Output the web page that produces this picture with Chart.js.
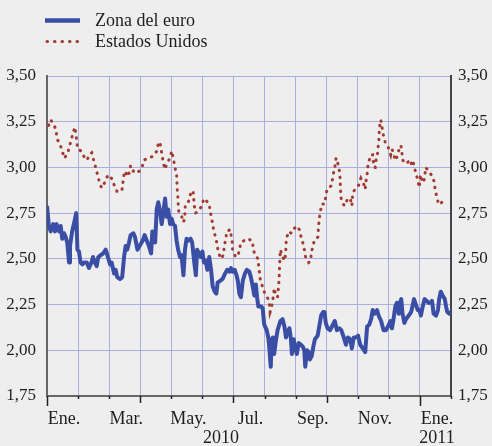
<!DOCTYPE html>
<html>
<head>
<meta charset="utf-8">
<script src="https://cdn.jsdelivr.net/npm/chart.js@4.4.1/dist/chart.umd.min.js"></script>
<style>
  html, body { margin: 0; padding: 0; background: #eeeeee; }
  canvas { display: block; }
</style>
</head>
<body>
<canvas id="chart" width="492" height="446"></canvas>
<script>
// Time is in months since 1 Jan 2010
const euroTimes = [
  0.00,0.06,0.12,0.20,0.26,0.31,0.39,0.44,0.49,0.55,
  0.60,0.65,0.71,0.74,0.81,0.89,0.94,0.98,1.03,1.08,
  1.14,1.19,1.28,1.35,1.43,1.48,1.54,1.60,1.65,1.73,
  1.81,1.89,1.96,2.03,2.08,2.16,2.21,2.26,2.35,2.42,
  2.48,2.53,2.58,2.64,2.69,2.78,2.83,2.91,2.98,3.08,
  3.14,3.21,3.28,3.35,3.39,3.44,3.48,3.53,3.58,3.64,
  3.69,3.74,3.80,3.85,3.90,3.96,4.01,4.06,4.12,4.17,
  4.22,4.28,4.33,4.39,4.44,4.49,4.55,4.62,4.67,4.74,
  4.79,4.83,4.89,4.95,5.00,5.05,5.11,5.16,5.22,5.28,
  5.33,5.40,5.45,5.49,5.57,5.65,5.73,5.80,5.87,5.92,
  5.97,6.04,6.10,6.14,6.19,6.24,6.30,6.37,6.43,6.51,
  6.56,6.62,6.67,6.72,6.76,6.80,6.89,6.94,6.99,7.07,
  7.12,7.15,7.20,7.23,7.27,7.31,7.37,7.42,7.51,7.58,
  7.64,7.69,7.74,7.80,7.85,7.88,7.94,7.99,8.04,8.10,
  8.17,8.23,8.28,8.31,8.37,8.42,8.46,8.52,8.57,8.62,
  8.71,8.76,8.82,8.89,8.93,8.97,9.03,9.11,9.17,9.26,
  9.33,9.41,9.47,9.55,9.62,9.68,9.76,9.81,9.87,9.94,
  10.01,10.08,10.16,10.24,10.30,10.37,10.43,10.48,10.54,10.62,
  10.67,10.75,10.83,10.91,10.97,11.05,11.10,11.15,11.21,11.26,
  11.32,11.36,11.40,11.44,11.50,11.55,11.64,11.72,11.77,11.81,
  11.87,11.93,11.98,12.03,12.09,12.15,12.22,12.28,12.34,12.39,
  12.44,12.52,12.58,12.62,12.67,12.73,12.80,12.84,12.88,12.95,13.00
];
const euroValues = [
  2.79,2.68,2.65,2.69,2.65,2.69,2.65,2.68,2.61,2.64,
  2.62,2.59,2.48,2.57,2.65,2.71,2.75,2.55,2.54,2.48,
  2.47,2.48,2.48,2.45,2.48,2.51,2.48,2.46,2.51,2.52,
  2.53,2.55,2.51,2.47,2.48,2.42,2.44,2.40,2.39,2.40,
  2.51,2.57,2.55,2.59,2.63,2.64,2.62,2.55,2.57,2.60,
  2.63,2.60,2.57,2.53,2.65,2.64,2.59,2.77,2.81,2.76,
  2.69,2.75,2.83,2.73,2.77,2.69,2.72,2.69,2.68,2.60,
  2.55,2.51,2.52,2.41,2.55,2.61,2.60,2.61,2.59,2.48,
  2.41,2.55,2.53,2.51,2.54,2.48,2.49,2.44,2.51,2.44,
  2.35,2.32,2.31,2.37,2.38,2.39,2.42,2.44,2.43,2.45,
  2.43,2.44,2.41,2.38,2.31,2.29,2.38,2.42,2.44,2.43,
  2.40,2.35,2.30,2.36,2.29,2.24,2.24,2.23,2.14,2.11,
  2.07,2.02,1.91,2.06,2.07,1.98,2.06,2.11,2.16,2.17,
  2.13,2.07,2.10,2.12,2.06,1.98,2.06,2.01,1.98,2.04,
  2.03,2.02,2.00,1.91,2.00,1.99,1.95,1.97,2.02,2.06,
  2.08,2.13,2.19,2.21,2.21,2.15,2.12,2.11,2.13,2.16,
  2.11,2.12,2.11,2.07,2.03,2.07,2.06,2.01,2.07,2.07,
  2.08,2.03,2.01,1.99,2.13,2.14,2.17,2.22,2.20,2.22,
  2.19,2.16,2.11,2.11,2.13,2.16,2.12,2.17,2.24,2.26,
  2.20,2.26,2.28,2.20,2.15,2.17,2.19,2.21,2.25,2.28,
  2.25,2.22,2.22,2.19,2.24,2.28,2.27,2.26,2.26,2.27,
  2.20,2.19,2.22,2.28,2.32,2.30,2.28,2.24,2.21,2.20,2.21
];
const usTimes = [
  0.05,0.12,0.23,0.30,0.31,0.41,0.49,0.56,0.67,0.73,
  0.78,0.84,0.90,0.93,0.96,0.99,1.10,1.19,1.29,1.36,
  1.44,1.50,1.55,1.61,1.67,1.75,1.79,1.88,1.97,2.08,
  2.17,2.25,2.40,2.44,2.45,2.51,2.61,2.66,2.69,2.81,
  2.98,3.06,3.12,3.23,3.40,3.54,3.58,3.63,3.66,3.70,
  3.74,3.79,3.86,3.95,4.02,4.04,4.13,4.17,4.18,4.19,
  4.21,4.22,4.24,4.32,4.39,4.43,4.45,4.53,4.58,4.64,
  4.70,4.72,4.74,4.78,4.85,4.99,5.04,5.17,5.22,5.25,
  5.30,5.37,5.44,5.48,5.52,5.62,5.69,5.70,5.76,5.78,
  5.90,5.93,5.96,5.97,6.07,6.15,6.19,6.24,6.44,6.60,
  6.64,6.67,6.79,6.81,6.84,6.86,6.93,7.01,7.12,7.17,
  7.18,7.22,7.26,7.29,7.31,7.36,7.42,7.44,7.46,7.47,
  7.48,7.49,7.50,7.51,7.58,7.65,7.68,7.69,7.70,7.78,
  7.86,7.92,8.04,8.12,8.16,8.23,8.28,8.32,8.42,8.49,
  8.50,8.56,8.60,8.72,8.73,8.75,8.77,8.81,8.84,8.93,
  8.97,9.01,9.15,9.19,9.22,9.27,9.30,9.33,9.37,9.41,
  9.43,9.44,9.45,9.47,9.57,9.68,9.76,9.81,9.84,9.91,
  10.02,10.10,10.19,10.24,10.26,10.30,10.32,10.35,10.43,10.48,
  10.49,10.53,10.56,10.59,10.64,10.66,10.68,10.69,10.71,10.74,
  10.78,10.82,10.88,10.98,11.06,11.10,11.15,11.20,11.23,11.28,
  11.35,11.39,11.42,11.45,11.53,11.62,11.69,11.77,11.82,11.87,
  11.93,11.98,12.02,12.07,12.12,12.16,12.19,12.27,12.41,12.46,
  12.49,12.54,12.60,12.68,12.75
];
const usValues = [
  3.23,3.26,3.23,3.20,3.16,3.13,3.09,3.05,3.08,3.12,
  3.15,3.19,3.22,3.18,3.14,3.10,3.09,3.06,3.04,3.07,
  3.08,3.04,3.01,2.97,2.93,2.89,2.89,2.93,2.96,2.94,
  2.90,2.87,2.87,2.90,2.94,2.98,2.95,2.98,3.01,2.97,
  2.98,3.00,3.04,3.05,3.06,3.09,3.13,3.14,3.11,3.07,
  3.03,2.99,3.02,3.05,3.09,3.07,2.99,2.96,2.92,2.88,
  2.84,2.80,2.76,2.74,2.70,2.72,2.79,2.80,2.83,2.87,
  2.87,2.83,2.79,2.75,2.76,2.79,2.83,2.81,2.80,2.76,
  2.72,2.65,2.61,2.57,2.53,2.50,2.53,2.57,2.61,2.65,
  2.66,2.62,2.59,2.55,2.51,2.52,2.55,2.59,2.61,2.60,
  2.56,2.53,2.50,2.46,2.42,2.39,2.35,2.31,2.28,2.24,
  2.21,2.23,2.27,2.30,2.34,2.30,2.29,2.33,2.37,2.40,
  2.44,2.48,2.52,2.55,2.51,2.49,2.53,2.57,2.61,2.65,
  2.64,2.66,2.68,2.66,2.63,2.59,2.55,2.51,2.48,2.49,
  2.53,2.57,2.60,2.62,2.66,2.70,2.73,2.77,2.80,2.80,
  2.84,2.88,2.90,2.94,2.97,3.01,3.05,3.05,3.01,2.98,
  2.94,2.90,2.86,2.82,2.79,2.83,2.83,2.79,2.86,2.88,
  2.90,2.94,2.91,2.88,2.92,2.96,3.00,3.03,3.07,3.07,
  3.04,3.00,3.00,3.04,3.08,3.12,3.15,3.19,3.23,3.26,
  3.22,3.18,3.14,3.11,3.07,3.10,3.08,3.04,3.04,3.07,
  3.11,3.12,3.08,3.04,3.02,3.03,3.01,3.04,3.00,2.97,
  2.93,2.89,2.96,2.92,2.92,2.96,3.00,2.98,2.95,2.92,
  2.88,2.84,2.80,2.80,2.83
];

const seriesNames = ['Zona del euro', 'Estados Unidos'];
const monthLabels = ['Ene.', 'Mar.', 'May.', 'Jul.', 'Sep.', 'Nov.', 'Ene.'];
const monthLabelMonths = [0, 2, 4, 6, 8, 10, 12];
const yearLabels = ['2010', '2011'];
const yTickValues = [1.75, 2.00, 2.25, 2.50, 2.75, 3.00, 3.25, 3.50];
const monthCount = 13;

const FONT = "'Liberation Serif', 'Times New Roman', serif";
const BLUE = '#3a4ea6';
const RED = '#a23b30';
const GRID = '#a9addf';
const TEXT = '#1e1e1e';

// x ticks: month boundaries carry the grid, mid-month ticks carry the labels
const xTicks = [];
for (let m = 0; m <= monthCount; m++) xTicks.push({ value: m, label: '' });
monthLabelMonths.forEach((m, i) => {
  const label = [monthLabels[i]];
  if (i === monthLabels.length - 1) label.push(yearLabels[1]);
  xTicks.push({ value: m + 0.55, label: label });
});
xTicks.push({ value: 5.6, label: ['', yearLabels[0]] });
xTicks.sort((a, b) => a.value - b.value);

const toPoints = (times, values) => times.map((t, i) => ({ x: t, y: values[i] }));
const fmt = v => v.toFixed(2).replace('.', ',');

const decorations = {
  id: 'decorations',
  afterDraw(chart) {
    const { ctx, chartArea, scales } = chart;
    ctx.save();
    // month tick marks under the axis
    ctx.strokeStyle = '#222';
    ctx.lineWidth = 1.5;
    for (let m = 0; m <= monthCount; m++) {
      const x = Math.round(scales.x.getPixelForValue(m)) + 0.5;
      const len = m % 12 === 0 ? 10 : (m % 3 === 0 ? 7 : 3);
      ctx.beginPath();
      ctx.moveTo(x, chartArea.bottom);
      ctx.lineTo(x, chartArea.bottom + len);
      ctx.stroke();
    }
    // legend
    ctx.lineWidth = 4.5;
    ctx.strokeStyle = BLUE;
    ctx.beginPath();
    ctx.moveTo(45, 20.5);
    ctx.lineTo(80, 20.5);
    ctx.stroke();
    ctx.strokeStyle = RED;
    ctx.lineWidth = 3;
    ctx.lineCap = 'round';
    ctx.setLineDash([0.5, 7]);
    ctx.beginPath();
    ctx.moveTo(47, 41.5);
    ctx.lineTo(79, 41.5);
    ctx.stroke();
    ctx.setLineDash([]);
    ctx.fillStyle = TEXT;
    ctx.font = '18px ' + FONT;
    ctx.textBaseline = 'alphabetic';
    ctx.fillText(seriesNames[0], 95, 26);
    ctx.fillText(seriesNames[1], 95, 47);
    ctx.restore();
  }
};

const yAxis = (position, width, showGrid) => ({
  type: 'linear',
  position: position,
  min: 1.75,
  max: 3.5,
  afterBuildTicks: s => { s.ticks = yTickValues.map(v => ({ value: v })); },
  afterFit: s => { s.width = width; },
  ticks: {
    callback: v => fmt(v),
    font: { family: FONT, size: 17 },
    color: TEXT,
    padding: position === 'left' ? 11 : 7
  },
  grid: { display: showGrid, color: GRID, lineWidth: 1, drawTicks: false },
  border: { display: true, color: position === 'left' ? '#666' : '#444', width: 2 }
});

new Chart(document.getElementById('chart'), {
  type: 'line',
  data: {
    datasets: [
      {
        label: seriesNames[0],
        data: toPoints(euroTimes, euroValues),
        borderColor: BLUE,
        borderWidth: 4,
        pointRadius: 0,
        tension: 0,
        borderJoinStyle: 'round'
      },
      {
        label: seriesNames[1],
        data: toPoints(usTimes, usValues),
        borderColor: RED,
        borderWidth: 3,
        borderDash: [0.5, 6.5],
        borderCapStyle: 'round',
        pointRadius: 0,
        tension: 0
      }
    ]
  },
  options: {
    responsive: false,
    animation: false,
    layout: { padding: { top: 76, left: 0, right: 0, bottom: 0 } },
    plugins: {
      legend: { display: false },
      tooltip: { enabled: false }
    },
    scales: {
      x: {
        type: 'linear',
        min: 0,
        max: monthCount,
        afterBuildTicks: s => { s.ticks = xTicks.map(t => ({ value: t.value })); },
        afterFit: s => { s.height = 50; },
        ticks: {
          autoSkip: false,
          maxRotation: 0,
          callback: (v, i) => xTicks[i].label,
          font: { family: FONT, size: 18, lineHeight: 1.1 },
          color: TEXT,
          padding: 13
        },
        grid: {
          color: c => (c.tick && Number.isInteger(c.tick.value)) ? GRID : 'rgba(0,0,0,0)',
          lineWidth: 1,
          drawTicks: false
        },
        border: { display: true, color: '#666', width: 2 }
      },
      y: yAxis('left', 47, true),
      y2: yAxis('right', 41, false)
    }
  },
  plugins: [decorations]
});
</script>
</body>
</html>
